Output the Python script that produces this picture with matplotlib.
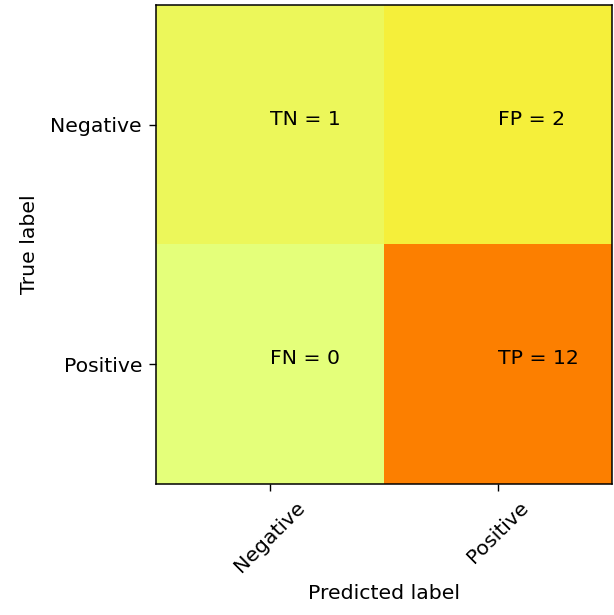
import numpy as np
import matplotlib
matplotlib.use("Agg")
import matplotlib.pyplot as plt

# confusion matrix values
classes = ['Negative', 'Positive']
cm = np.array([[1, 2],
               [0, 12]])
names = [['TN', 'FP'], ['FN', 'TP']]

fs = 14.7
fig = plt.figure(figsize=(6.14, 6.15), dpi=100)
ax = fig.add_axes([156/614, (615-484)/615, 456/614, 479/615])
ax.imshow(cm, interpolation='nearest', cmap=plt.cm.Wistia, aspect='auto')

ticks = np.arange(len(classes))
ax.set_xticks(ticks)
ax.set_xticklabels(classes, rotation=45, fontsize=fs)
ax.set_yticks(ticks)
ax.set_yticklabels(classes, fontsize=fs)
ax.set_xlabel('Predicted label', fontsize=fs, labelpad=6)
ax.set_ylabel('True label', fontsize=fs, labelpad=8)
ax.tick_params(length=5, width=1, pad=5)
for sp in ax.spines.values():
    sp.set_linewidth(1.1)

for i in range(2):
    for j in range(2):
        ax.text(j, i, names[i][j] + " = " + str(cm[i][j]), fontsize=fs)

fig.savefig('out.png', dpi=100)
